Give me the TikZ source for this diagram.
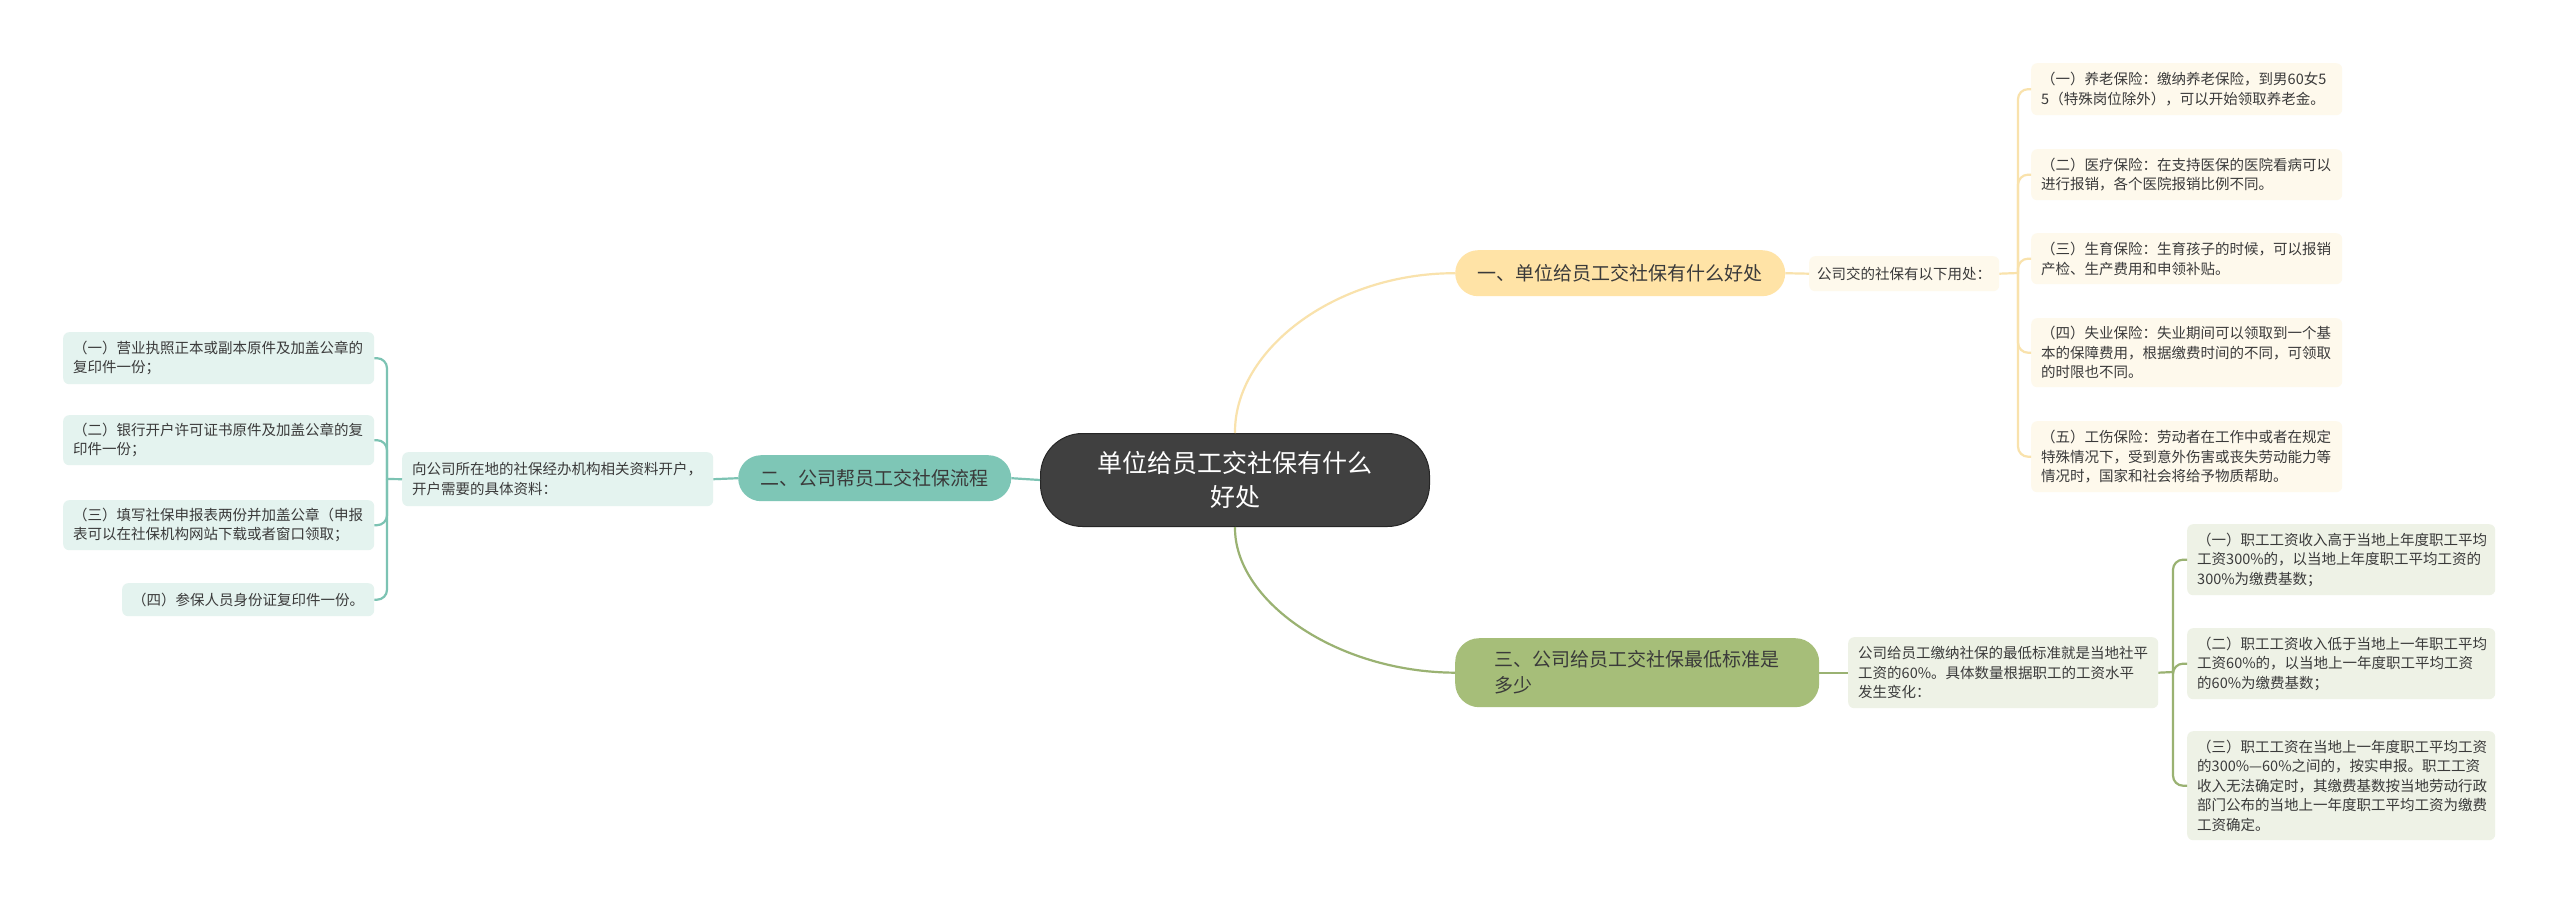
\documentclass[tikz,border=0pt]{standalone}
\usepackage{fontspec}
\setmainfont{Noto Sans CJK SC}
\definecolor{centerfill}{HTML}{404040}
\definecolor{ylwmain}{HTML}{FFE3A6}
\definecolor{ylwline}{HTML}{F9E2AC}
\definecolor{ylwleaf}{HTML}{FEF9EC}
\definecolor{tealmain}{HTML}{7EC6B6}
\definecolor{tealline}{HTML}{7CC3B3}
\definecolor{tealleaf}{HTML}{E4F3EF}
\definecolor{grnmain}{HTML}{A6BE79}
\definecolor{grnline}{HTML}{9AB272}
\definecolor{grnleaf}{HTML}{EEF2E6}
\definecolor{txt}{HTML}{3A3A3A}
\tikzset{
  leafbox/.style={anchor=north west, rounded corners=6pt, inner xsep=10pt, inner ysep=4pt,
    text=txt, align=left, font=\fontsize{14.5}{19.5}\selectfont},
  branchbox/.style={anchor=north west, inner sep=0pt, text=txt, align=left,
    font=\fontsize{19}{26}\selectfont},
  conn/.style={line width=2.2pt},
}
\begin{document}
\begin{tikzpicture}[x=1pt,y=-1pt]
\useasboundingbox (0,0) rectangle (2560,904);
\fill[white] (0,0) rectangle (2560,904);

% center
\node[anchor=north west, fill=centerfill, draw=black!85, line width=1pt, rounded corners=42pt,
  minimum width=389pt, minimum height=93pt, text=white, align=center,
  font=\fontsize{25}{34}\selectfont] (c) at (1040,433) {单位给员工交社保有什么\\好处};

% branch 1
\node[branchbox, fill=ylwmain, rounded corners=23pt, minimum width=330pt, minimum height=46pt] (b1) at (1455,250) {一、单位给员工交社保有什么好处};
\node[leafbox, fill=ylwleaf, minimum width=190pt, minimum height=35pt, inner xsep=8pt] (s1) at (1809,256) {公司交的社保有以下用处：};
\node[leafbox, fill=ylwleaf, text width=291pt, minimum height=52pt] (y1) at (2031,63) {（一）养老保险：缴纳养老保险，到男60女5\\5（特殊岗位除外），可以开始领取养老金。};
\node[leafbox, fill=ylwleaf, text width=291pt, minimum height=51pt] (y2) at (2031,149) {（二）医疗保险：在支持医保的医院看病可以\\进行报销，各个医院报销比例不同。};
\node[leafbox, fill=ylwleaf, text width=291pt, minimum height=51pt] (y3) at (2031,233) {（三）生育保险：生育孩子的时候，可以报销\\产检、生产费用和申领补贴。};
\node[leafbox, fill=ylwleaf, text width=291pt, minimum height=69pt] (y4) at (2031,318) {（四）失业保险：失业期间可以领取到一个基\\本的保障费用，根据缴费时间的不同，可领取\\的时限也不同。};
\node[leafbox, fill=ylwleaf, text width=291pt, minimum height=71pt] (y5) at (2031,421) {（五）工伤保险：劳动者在工作中或者在规定\\特殊情况下，受到意外伤害或丧失劳动能力等\\情况时，国家和社会将给予物质帮助。};

% branch 2
\node[branchbox, fill=tealmain, rounded corners=23pt, minimum width=273pt, minimum height=46pt, align=center] (b2) at (738,455) {二、公司帮员工交社保流程};
\node[leafbox, fill=tealleaf, text width=291pt, minimum height=54pt] (s2) at (402,452) {向公司所在地的社保经办机构相关资料开户，\\开户需要的具体资料：};
\node[leafbox, fill=tealleaf, text width=291pt, minimum height=52pt] (t1) at (63,332) {（一）营业执照正本或副本原件及加盖公章的\\复印件一份；};
\node[leafbox, fill=tealleaf, text width=291pt, minimum height=50pt] (t2) at (63,415) {（二）银行开户许可证书原件及加盖公章的复\\印件一份；};
\node[leafbox, fill=tealleaf, text width=291pt, minimum height=50pt] (t3) at (63,500) {（三）填写社保申报表两份并加盖公章（申报\\表可以在社保机构网站下载或者窗口领取；};
\node[leafbox, fill=tealleaf, text width=232pt, minimum height=33pt] (t4) at (122,583) {（四）参保人员身份证复印件一份。};

% branch 3
\node[branchbox, fill=grnmain, rounded corners=24pt, minimum width=364pt, minimum height=69pt] (b3) at (1455,638) {三、公司给员工交社保最低标准是\\多少};
\node[leafbox, fill=grnleaf, text width=290pt, minimum height=71pt] (s3) at (1848,637) {公司给员工缴纳社保的最低标准就是当地社平\\工资的60\%。具体数量根据职工的工资水平\\发生变化：};
\node[leafbox, fill=grnleaf, text width=288pt, minimum height=71pt] (g1) at (2187,524) {（一）职工工资收入高于当地上年度职工平均\\工资300\%的，以当地上年度职工平均工资的\\300\%为缴费基数；};
\node[leafbox, fill=grnleaf, text width=288pt, minimum height=71pt] (g2) at (2187,628) {（二）职工工资收入低于当地上一年职工平均\\工资60\%的，以当地上一年度职工平均工资\\的60\%为缴费基数；};
\node[leafbox, fill=grnleaf, text width=288pt, minimum height=109pt] (g3) at (2187,731) {（三）职工工资在当地上一年度职工平均工资\\的300\%—60\%之间的，按实申报。职工工资\\收入无法确定时，其缴费基数按当地劳动行政\\部门公布的当地上一年度职工平均工资为缴费\\工资确定。};

% junctions
\coordinate (j1) at (2018,273);
\coordinate (j2) at (387,479);
\coordinate (j3) at (2173,672);

% connectors
\begin{scope}[on background layer/.style={}]
\draw[conn, ylwline] (c.north) .. controls (1234,350) and (1335,273) .. (b1.west);
\draw[conn, grnline] (c.south) .. controls (1234,600) and (1335,672) .. (b3.west);
\draw[conn, tealline] (c.west) -- (b2.east);
\end{scope}

\draw[conn, ylwline] (b1.east) -- (s1.west);
\draw[conn, ylwline] (s1.east) -- (j1);
\foreach \n in {y1,y2,y3,y4,y5} \draw[conn, ylwline, rounded corners=10pt] (j1) |- (\n.west);

\draw[conn, tealline] (b2.west) -- (s2.east);
\draw[conn, tealline] (s2.west) -- (j2);
\foreach \n in {t1,t2,t3,t4} \draw[conn, tealline, rounded corners=10pt] (j2) |- (\n.east);

\draw[conn, grnline] (b3.east) -- (s3.west);
\draw[conn, grnline] (s3.east) -- (j3);
\foreach \n in {g1,g2,g3} \draw[conn, grnline, rounded corners=10pt] (j3) |- (\n.west);
\end{tikzpicture}
\end{document}
